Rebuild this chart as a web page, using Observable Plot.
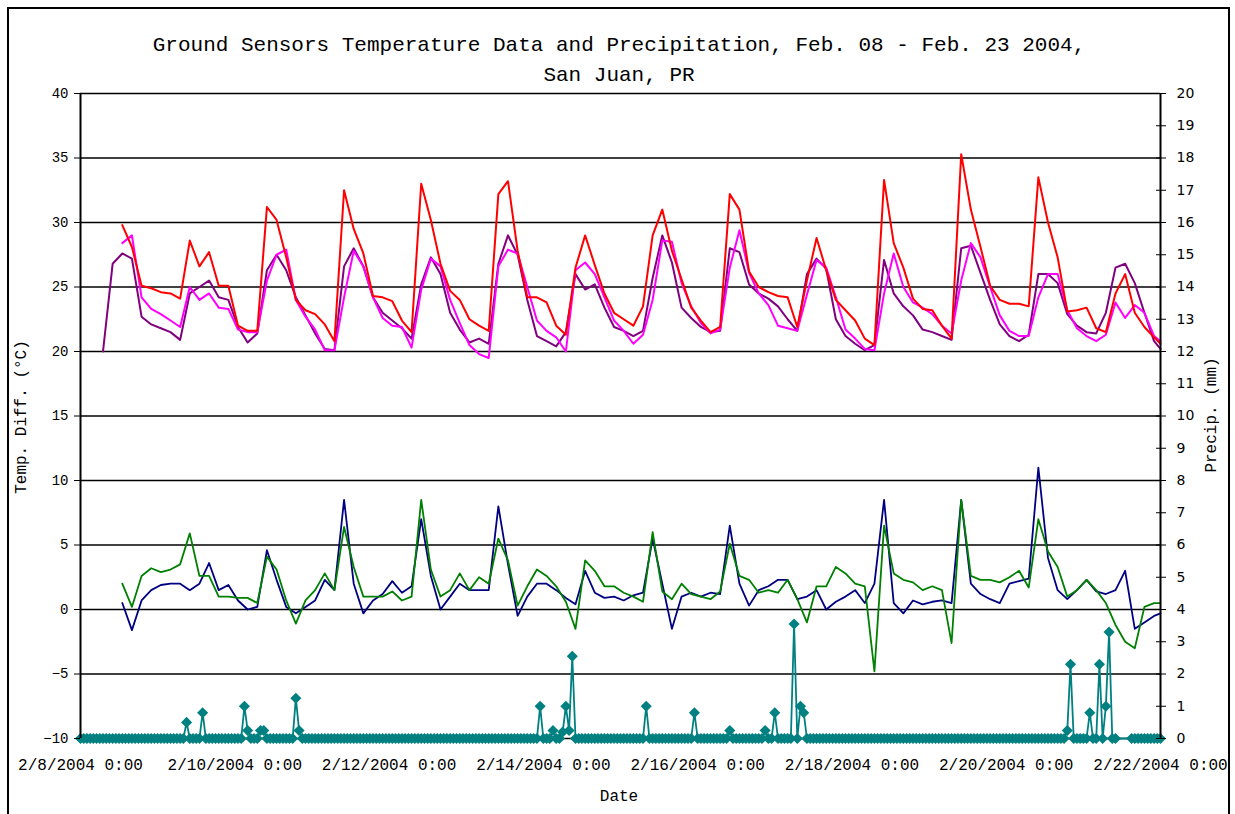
<!DOCTYPE html>
<html><head><meta charset="utf-8">
<script src="https://cdn.jsdelivr.net/npm/d3@7"></script>
<script src="https://cdn.jsdelivr.net/npm/@observablehq/plot@0.6"></script>
<style>
html,body{margin:0;padding:0;background:#fff;overflow:hidden;}
#wrap{position:relative;width:1235px;height:814px;overflow:hidden;background:#fff;}
#frame{position:absolute;left:7px;top:7px;width:1223px;height:840px;border:2px solid #000;box-sizing:border-box;}
.t{position:absolute;font-family:"Liberation Mono",monospace;color:#000;white-space:nowrap;}
#title{left:0;width:1238px;top:31px;text-align:center;font-size:21px;line-height:30px;}
#xlab{left:0;width:1238px;top:788px;text-align:center;font-size:16px;}
#ylab{left:22px;top:417px;font-size:16px;transform:translate(-50%,-50%) rotate(-90deg);}
#y2lab{left:1212px;top:415px;font-size:16px;transform:translate(-50%,-50%) rotate(-90deg);}
#chart{position:absolute;left:0;top:0;}
</style></head>
<body><div id="wrap">
<div id="frame"></div>
<div id="chart"></div>
<div class="t" id="title">Ground Sensors Temperature Data and Precipitation, Feb. 08 - Feb. 23 2004,<br>San Juan, PR</div>
<div class="t" id="xlab">Date</div>
<div class="t" id="ylab">Temp. Diff. (°C)</div>
<div class="t" id="y2lab">Precip. (mm)</div>
</div>
<script>
// ---- time categories: hours after 2/8/2004 0:00 (3-hourly readings) ----
const readingHours = d3.range(7, 335, 3).concat([336]);

// ---- upper temperature series (°C) ----
const purpleTemp = [
 20.0, 26.8, 27.6, 27.2, 22.7, 22.1, 21.8, 21.5, 20.9, 24.5, 25.0, 25.5, 24.2, 24.0, 21.9, 20.7, 21.4, 26.3, 27.5, 26.3, 24.2, 22.8, 21.4, 20.2, 20.1, 26.6, 28.0,
 26.6, 24.2, 23.0, 22.4, 21.8, 21.0, 25.2, 27.3, 26.0, 23.0, 21.7, 20.7, 21.0, 20.6, 26.8, 29.0, 27.5, 24.0, 21.2, 20.8, 20.4, 21.5, 26.0, 24.8, 25.2, 23.4, 21.9, 21.6,
 21.2, 21.6, 25.7, 29.0, 26.9, 23.4, 22.6, 21.9, 21.5, 21.6, 28.0, 27.7, 25.2, 24.5, 24.1, 23.5, 22.5, 21.6, 26.0, 27.2, 26.4, 22.5, 21.2, 20.6, 20.1, 20.5, 27.1, 24.5,
 23.5, 22.8, 21.7, 21.5, 21.2, 20.9, 28.0, 28.2, 26.1, 24.0, 22.1, 21.2, 20.8, 21.3, 26.0, 26.0, 25.3, 22.9, 22.0, 21.5, 21.4, 23.0, 26.5, 26.8, 25.3, 23.0, 20.8,
 20.2
];
const magentaTemp = [
 null, null, 28.4, 29.0, 24.2, 23.3, 22.9, 22.4, 21.9, 25.0, 24.0, 24.5, 23.4, 23.3, 21.7, 21.5, 21.5, 25.5, 27.5, 27.9, 24.0, 22.7, 21.7, 20.1, 20.1, 24.2, 27.8,
 26.6, 24.2, 22.6, 22.0, 21.9, 20.3, 24.8, 27.2, 26.6, 24.0, 22.2, 20.5, 19.8, 19.5, 26.6, 27.9, 27.6, 25.0, 22.4, 21.6, 21.1, 20.0, 26.3, 26.9, 26.0, 24.2, 22.4, 21.6,
 20.6, 21.3, 24.0, 28.6, 28.5, 25.3, 23.5, 22.2, 21.4, 21.7, 26.5, 29.4, 26.1, 24.5, 23.6, 22.0, 21.8, 21.6, 24.4, 27.1, 26.5, 24.2, 21.7, 21.0, 20.2, 20.1, 24.5, 27.6,
 25.0, 23.8, 23.4, 22.9, 22.0, 21.4, 25.5, 28.4, 27.3, 25.0, 22.8, 21.6, 21.2, 21.2, 24.2, 26.0, 26.0, 23.2, 21.8, 21.2, 20.8, 21.3, 23.8, 22.6, 23.6, 23.0, 21.2,
 20.8
];
const redTemp = [
 null, null, 29.8, 28.1, 25.1, 24.9, 24.6, 24.5, 24.1, 28.6, 26.6, 27.7, 25.1, 25.1, 22.0, 21.6, 21.6, 31.2, 30.2, 27.3, 24.0, 23.2, 22.9, 22.1, 20.8, 32.5, 29.5,
 27.6, 24.3, 24.2, 23.9, 22.4, 21.5, 33.0, 30.2, 26.8, 24.7, 24.0, 22.5, 22.0, 21.6, 32.2, 33.2, 27.8, 24.2, 24.2, 23.8, 22.0, 21.3, 26.5, 29.0, 26.7, 24.5, 23.0, 22.5,
 22.0, 23.5, 29.0, 31.0, 27.8, 25.6, 23.4, 22.4, 21.5, 21.9, 32.2, 31.0, 26.2, 25.0, 24.6, 24.3, 24.2, 21.9, 25.5, 28.8, 26.3, 24.0, 23.2, 22.4, 21.0, 20.5, 33.3, 28.4,
 26.5, 24.1, 23.3, 23.2, 22.0, 21.0, 35.3, 31.0, 28.1, 25.1, 24.0, 23.7, 23.7, 23.5, 33.5, 30.0, 27.3, 23.1, 23.2, 23.4, 21.8, 21.5, 24.5, 26.0, 23.0, 21.9, 21.1,
 20.6
];
// ---- lower temperature-difference series (°C) ----
const navyDiff = [
 null, null, 0.5, -1.6, 0.7, 1.5, 1.9, 2.0, 2.0, 1.5, 2.0, 3.6, 1.5, 1.9, 0.7, 0.0, 0.2, 4.6, 2.3, 0.2, -0.3, 0.2, 0.7, 2.3, 1.5, 8.5, 2.0,
 -0.3, 0.7, 1.2, 2.2, 1.3, 1.8, 7.0, 2.6, 0.0, 1.0, 2.0, 1.5, 1.5, 1.5, 8.0, 3.5, -0.5, 1.0, 2.0, 2.0, 1.5, 0.9, 0.4, 3.0, 1.3, 0.9, 1.0, 0.7,
 1.1, 1.3, 5.5, 2.0, -1.5, 1.0, 1.3, 1.0, 1.3, 1.2, 6.5, 2.0, 0.3, 1.5, 1.8, 2.3, 2.3, 0.8, 1.0, 1.5, 0.0, 0.6, 1.0, 1.5, 0.5, 2.0, 8.5, 0.5,
 -0.3, 0.7, 0.4, 0.6, 0.7, 0.5, 8.5, 2.0, 1.2, 0.8, 0.5, 2.0, 2.2, 2.4, 11.0, 4.0, 1.5, 0.8, 1.5, 2.3, 1.4, 1.2, 1.5, 3.0, -1.5, -1.0, -0.5,
 -0.3
];
const greenDiff = [
 null, null, 2.0, 0.2, 2.6, 3.2, 2.9, 3.1, 3.5, 5.9, 2.6, 2.6, 1.0, 1.0, 0.9, 0.9, 0.5, 4.1, 3.1, 0.7, -1.1, 0.7, 1.5, 2.8, 1.5, 6.4, 3.3,
 1.0, 1.0, 1.0, 1.4, 0.7, 1.0, 8.5, 3.1, 1.0, 1.5, 2.8, 1.5, 2.5, 2.0, 5.5, 3.8, 0.3, 1.8, 3.1, 2.6, 1.8, 0.6, -1.5, 3.8, 3.0, 1.8, 1.8, 1.3,
 1.0, 0.6, 6.0, 1.4, 0.8, 2.0, 1.2, 1.0, 0.8, 1.4, 5.1, 2.6, 2.3, 1.3, 1.5, 1.3, 2.3, 0.8, -1.0, 1.8, 1.8, 3.3, 2.8, 2.0, 1.8, -4.8, 6.5, 2.8,
 2.3, 2.1, 1.5, 1.8, 1.5, -2.6, 8.5, 2.6, 2.3, 2.3, 2.1, 2.5, 3.0, 1.7, 7.0, 4.5, 3.3, 1.0, 1.5, 2.3, 1.5, 0.5, -1.2, -2.5, -3.0, 0.2, 0.5,
 0.5
];

// ---- precipitation (mm), hourly readings; all other hourly readings are 0 ----
const precipEventHour = [33, 38, 51, 52, 56, 57, 67, 68, 143, 147, 150, 151, 152, 153, 176, 191, 202, 213, 216, 222, 224, 225, 307, 308, 314, 317, 319, 320];
const precipEventMm   = [0.5, 0.8, 1.0, 0.25, 0.25, 0.25, 1.25, 0.25, 1.0, 0.25, 0.2, 1.0, 0.25, 2.55, 1.0, 0.8, 0.25, 0.25, 0.8, 3.55, 1.0, 0.8, 0.25, 2.3, 0.8, 2.3, 1.0, 3.3];
const precipMissingHour = [323, 324, 325, 326];

// ---- axis ticks ----
const leftTicks = [-10, -5, 0, 5, 10, 15, 20, 25, 30, 35, 40];
const rightTickMm = [0,1,2,3,4,5,6,7,8,9,10,11,12,13,14,15,16,17,18,19,20];
const xTickDays = [8, 10, 12, 14, 16, 18, 20, 22];

// ---- build ----
const t0 = Date.UTC(2004, 1, 8);
const toDate = h => new Date(t0 + h * 3600e3);
const mmToAxis = mm => -10 + mm * 2.5; // 0–20 mm shares the -10–40 °C frame
const xStart = toDate(0), xEnd = toDate(336);

const series = [
  {values: purpleTemp, color: "#800080", w: 2},
  {values: magentaTemp, color: "#FF00FF", w: 2},
  {values: redTemp, color: "#FF0000", w: 2},
  {values: navyDiff, color: "#000080", w: 1.8},
  {values: greenDiff, color: "#008000", w: 1.8}
];

const precipMap = new Map(precipEventHour.map((h, i) => [h, precipEventMm[i]]));
const precipRows = d3.range(0, 337)
  .filter(h => !precipMissingHour.includes(h))
  .map(h => ({t: toDate(h), mm: precipMap.has(h) ? precipMap.get(h) : 0}));

const fmtX = d => `${d.getUTCMonth() + 1}/${d.getUTCDate()}/${d.getUTCFullYear()} 0:00`;
const xTicks = xTickDays.map(d => new Date(Date.UTC(2004, 1, d)));
const rightTicks = rightTickMm.map(mmToAxis);

const marks = [
  Plot.ruleY(leftTicks, {stroke: "#000", strokeWidth: 1.5}),
  ...series.map(s => Plot.line(readingHours.map((h, i) => ({t: toDate(h), v: s.values[i]})),
      {x: "t", y: "v", stroke: s.color, strokeWidth: s.w})),
  Plot.line(precipRows, {x: "t", y: d => mmToAxis(d.mm), stroke: "#008080", strokeWidth: 1.8}),
  Plot.dot(precipRows, {x: "t", y: d => mmToAxis(d.mm), symbol: "diamond2", r: 5, fill: "#008080", stroke: "none"}),
  Plot.ruleX([xStart, xEnd], {stroke: "#000", strokeWidth: 2}),
  Plot.axisY(leftTicks, {anchor: "left", tickSize: 6, tickPadding: 6, label: null, fontSize: 14, fontFamily: "Liberation Mono"}),
  Plot.axisY(rightTicks, {anchor: "right", tickSize: 10, dx: -5, tickFormat: () => "", label: null}),
  Plot.axisY(rightTicks, {anchor: "right", tickSize: 0, tickPadding: 16, label: null,
      tickFormat: d => String(Math.round((d + 10) / 2.5)), fontSize: 14, fontFamily: "DejaVu Sans"}),
  Plot.axisX(xTicks, {anchor: "bottom", tickSize: 0, tickPadding: 20, tickFormat: fmtX, label: null, fontSize: 16, fontFamily: "Liberation Mono"})
];

const chart = Plot.plot({
  width: 1235, height: 814,
  marginLeft: 80, marginRight: 75, marginTop: 93, marginBottom: 76,
  style: {background: "transparent", color: "#000", overflow: "visible", fontFamily: "Liberation Mono", maxWidth: "none"},
  x: {type: "utc", domain: [xStart, xEnd]},
  y: {domain: [-10, 40]},
  marks
});
document.getElementById("chart").appendChild(chart);
</script>
</body></html>
